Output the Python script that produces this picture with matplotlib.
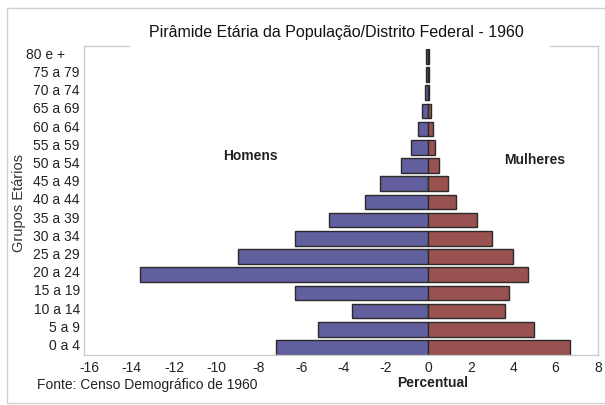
import matplotlib
matplotlib.use("Agg")
import matplotlib.pyplot as plt
import matplotlib.transforms as mtransforms
from matplotlib.patches import Rectangle

plt.rcParams['font.family'] = ['Liberation Sans', 'DejaVu Sans']

age_groups = ["0 a 4", "5 a 9", "10 a 14", "15 a 19", "20 a 24", "25 a 29",
              "30 a 34", "35 a 39", "40 a 44", "45 a 49", "50 a 54", "55 a 59",
              "60 a 64", "65 a 69", "70 a 74", "75 a 79", "80 e +"]
homens = [7.2, 5.2, 3.6, 6.3, 13.6, 9.0, 6.3, 4.7, 3.0, 2.3, 1.3, 0.8,
          0.5, 0.3, 0.15, 0.12, 0.12]
mulheres = [6.7, 5.0, 3.6, 3.8, 4.7, 4.0, 3.0, 2.3, 1.3, 0.9, 0.5, 0.3,
            0.2, 0.1, 0.05, 0.05, 0.05]
x_ticks = [-16, -14, -12, -10, -8, -6, -4, -2, 0, 2, 4, 6, 8]

fig = plt.figure(figsize=(6.05, 4.05), dpi=100)
W, H = 605, 405
ax = fig.add_axes([84 / W, 1 - 355 / H, (598 - 84) / W, (355 - 46) / H])

pos = list(range(len(age_groups)))
ax.barh(pos, [-v for v in homens], height=0.8, color='#625f9e',
        edgecolor='#2a2a2a', linewidth=1.0)
ax.barh(pos, mulheres, height=0.8, color='#9a5250',
        edgecolor='#2a2a2a', linewidth=1.0)

ax.set_xlim(-16.25, 8.0)
ax.set_ylim(-0.41, 16.57)
ax.set_xticks(x_ticks)
ax.set_xticklabels([str(t) for t in x_ticks], fontsize=10, color='#222222')
ax.set_yticks(pos)
ax.set_yticklabels(age_groups, fontsize=10, color='#222222')
ax.tick_params(axis='both', length=0, pad=3)
ax.tick_params(axis='x', pad=4)
for sp in ax.spines.values():
    sp.set_color('#cccccc')
    sp.set_linewidth(1.0)

# shift y labels slightly up, and the 80 e + label to the left
for i, lab in enumerate(ax.get_yticklabels()):
    dx = -15 / 100 if i == len(age_groups) - 1 else 0
    lab.set_transform(lab.get_transform() +
                      mtransforms.ScaledTranslation(dx, 3 / 100, fig.dpi_scale_trans))

# outer frame
fig.patches.append(Rectangle((7 / W, 1 - 403 / H), 1.0, (403 - 8) / H,
                             transform=fig.transFigure, fill=False,
                             edgecolor='#d0d0d0', linewidth=1.0))

# white box behind the title, covering the top of the plot frame
fig.patches.append(Rectangle((130 / W, 1 - 49 / H), (550 - 130) / W, (49 - 18) / H,
                             transform=fig.transFigure, facecolor='white',
                             edgecolor='none', zorder=5))

fig.text(336 / W, 1 - 33 / H, "Pirâmide Etária da População/Distrito Federal - 1960",
         ha='center', va='center', fontsize=11.5, color='#111111', zorder=6)

fig.text(19 / W, 1 - 203 / H, "Grupos Etários", rotation=90, ha='center',
         va='center', fontsize=10.5, color='#333333')

ax.text(250 / W, 1 - 156 / H, "Homens", transform=fig.transFigure, ha='center',
        va='center', fontsize=10, fontweight='bold', color='#222222')
ax.text(535 / W, 1 - 160 / H, "Mulheres", transform=fig.transFigure, ha='center',
        va='center', fontsize=10, fontweight='bold', color='#222222')
fig.text(433 / W, 1 - 383 / H, "Percentual", ha='center', va='center',
         fontsize=10, fontweight='bold', color='#222222')
fig.text(37 / W, 1 - 385 / H, "Fonte: Censo Demográfico de 1960", ha='left',
         va='center', fontsize=10, color='#222222')

fig.savefig("out.png", dpi=100)
